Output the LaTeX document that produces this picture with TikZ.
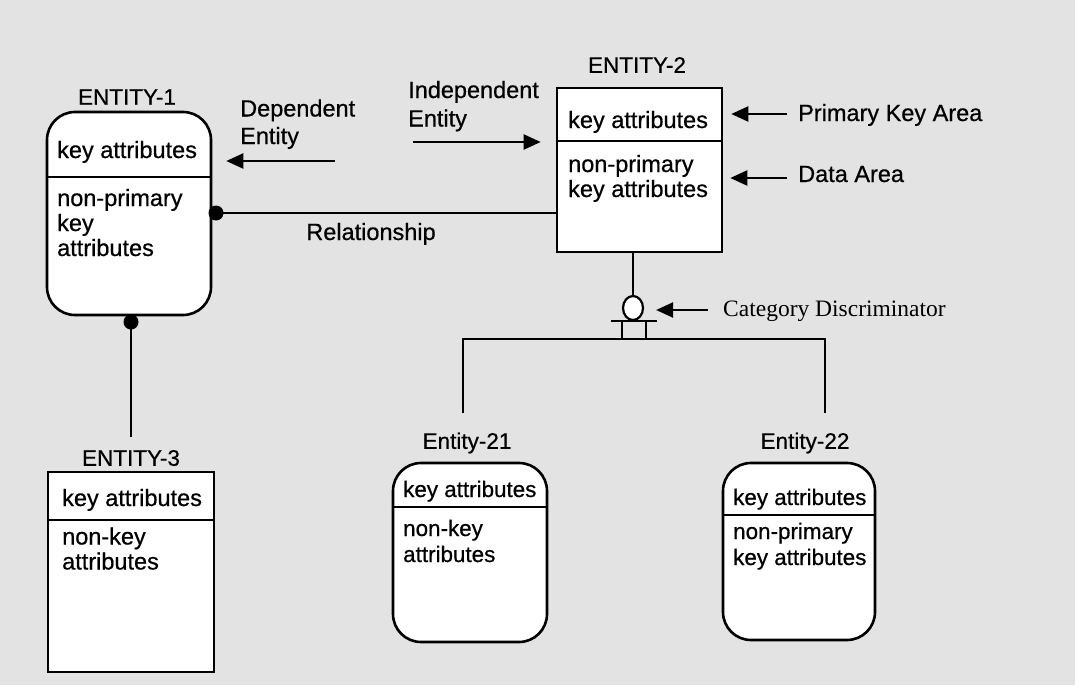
\documentclass[tikz,border=0pt]{standalone}
\usepackage{fontspec}
\setmainfont{Liberation Sans}[FakeBold=0.6]
\newfontfamily\timesfont{Liberation Serif}
\usetikzlibrary{arrows.meta,shapes.geometric,calc}

\begin{document}
\begin{tikzpicture}[x=1pt,y=-1pt,
  entbox/.style={draw, line width=2.6pt, fill=white, inner sep=0},
  softbox/.style={entbox, rounded corners=28pt},
  divider/.style={line width=2.2pt},
  conn/.style={line width=2.2pt},
  lbl/.style={inner sep=0, align=left, font=\fontsize{23.5}{25}\selectfont},
  lbls/.style={inner sep=0, align=left, font=\fontsize{22.4}{26}\selectfont},
  ttl/.style={inner sep=0, font=\fontsize{22.5}{25}\selectfont},
  pointer/.style={line width=2.2pt, -{Triangle[length=17pt,width=15pt]}},
  dot/.style={circle, fill=black, inner sep=0, minimum size=15pt}
]
% paper
\fill[black!11] (0,0) rectangle (1075,685);
\useasboundingbox (0,0) rectangle (1075,685);

% ---- entity boxes ----
\node[softbox, minimum width=164pt, minimum height=203pt] (e1) at (129,213.5) {};
\node[entbox,  minimum width=165pt, minimum height=164pt] (e2) at (639.5,170) {};
\node[entbox,  minimum width=166pt, minimum height=200pt] (e3) at (131,572) {};
\node[softbox, minimum width=154pt, minimum height=179pt] (e21) at (470,552.5) {};
\node[softbox, minimum width=152pt, minimum height=177pt] (e22) at (799,551.5) {};

% key / data area dividers
\draw[divider] (e1.west |- 0,177) -- (e1.east |- 0,177);
\draw[divider] (e2.west |- 0,141) -- (e2.east |- 0,141);
\draw[divider] (e3.west |- 0,520) -- (e3.east |- 0,520);
\draw[divider] (e21.west |- 0,507) -- (e21.east |- 0,507);
\draw[divider] (e22.west |- 0,515) -- (e22.east |- 0,515);

% ---- titles ----
\node[ttl] (t1) at (127,97) {ENTITY-1};
\node[ttl] (t2) at (637,65) {ENTITY-2};
\node[ttl] (t3) at (131,458) {ENTITY-3};
\node[ttl] (t21) at (467,443) {Entity-21};
\node[ttl] (t22) at (805,443) {Entity-22};

% ---- box contents (multi-line nodes sit on the baseline of their last line) ----
\node[lbl, anchor=base west] (k1) at (57,158) {key attributes};
\node[lbl, anchor=base west] (d1) at (57,256) {non-primary\\key\\attributes};
\node[lbl, anchor=base west] (k2) at (568,128) {key attributes};
\node[lbl, anchor=base west] (d2) at (568,197) {non-primary\\key attributes};
\node[lbl, anchor=base west] (k3) at (62,506) {key attributes};
\node[lbl, anchor=base west] (d3) at (62,569.5) {non-key\\attributes};
\node[lbls, anchor=base west] (k21) at (403,497) {key attributes};
\node[lbls, anchor=base west] (d21) at (403,562) {non-key\\attributes};
\node[lbls, anchor=base west] (k22) at (733,505) {key attributes};
\node[lbls, anchor=base west] (d22) at (733,565) {non-primary\\key attributes};

% ---- annotations ----
\node[lbl, anchor=base west, font=\fontsize{23.5}{27.5}\selectfont] (dep) at (240,144) {Dependent\\Entity};
\node[lbl, anchor=base west, font=\fontsize{23.5}{28.5}\selectfont] (indep) at (408,126.5) {Independent\\Entity};
\node[lbl, anchor=base west] (pka) at (798,121) {Primary Key Area};
\node[lbl, anchor=base west] (da) at (798,182) {Data Area};
\node[lbl, anchor=base] (rel) at (371,240) {Relationship};
\node[inner sep=0, anchor=base west, font=\timesfont\fontsize{23.5}{25}\selectfont] (cd) at (723,316) {Category Discriminator};

\coordinate (depTail) at (335,161);
\coordinate (indepTail) at (413,142);
\coordinate (pkaTail) at (787,114);
\coordinate (daTail) at (787,178);
\coordinate (cdTail) at (708,310);

% ---- relationship ENTITY-1 / ENTITY-2 ----
\draw[conn] (e2.west |- 0,213) -- (e1.east |- 0,213);
\node[dot] (r1) at (216,213) {};

% ---- relationship ENTITY-1 / ENTITY-3 ----
\node[dot] (r3) at (131,322) {};
\draw[conn] (r3.center) -- (t3.north |- 0,437);

% ---- category cluster ----
\node[draw, ellipse, line width=2.2pt, fill=white, inner sep=0,
      minimum width=20pt, minimum height=24pt] (disc) at (633,308) {};
\draw[conn] (disc.north) -- (disc.north |- e2.south);
\coordinate (barL) at (611,321);
\coordinate (barR) at (657,321);
\draw[conn] (barL) -- (barR);
\draw[conn] (622,321) -- (622,339);
\draw[conn] (646,321) -- (646,339);
\coordinate (splitL) at (463,339);
\coordinate (splitR) at (825,339);
\draw[conn] (splitL |- 0,413) -- (splitL) -- (splitR) -- (splitR |- 0,413);

% ---- pointer arrows ----
\draw[pointer] (depTail) -- ($(e1.east |- depTail)+(14,0)$);
\draw[pointer] (indepTail) -- ($(e2.west |- indepTail)+(-15,0)$);
\draw[pointer] (pkaTail) -- ($(e2.east |- pkaTail)+(8,0)$);
\draw[pointer] (daTail) -- ($(e2.east |- daTail)+(7,0)$);
\draw[pointer] (cdTail) -- ($(disc.east |- cdTail)+(12,0)$);
\end{tikzpicture}
\end{document}
